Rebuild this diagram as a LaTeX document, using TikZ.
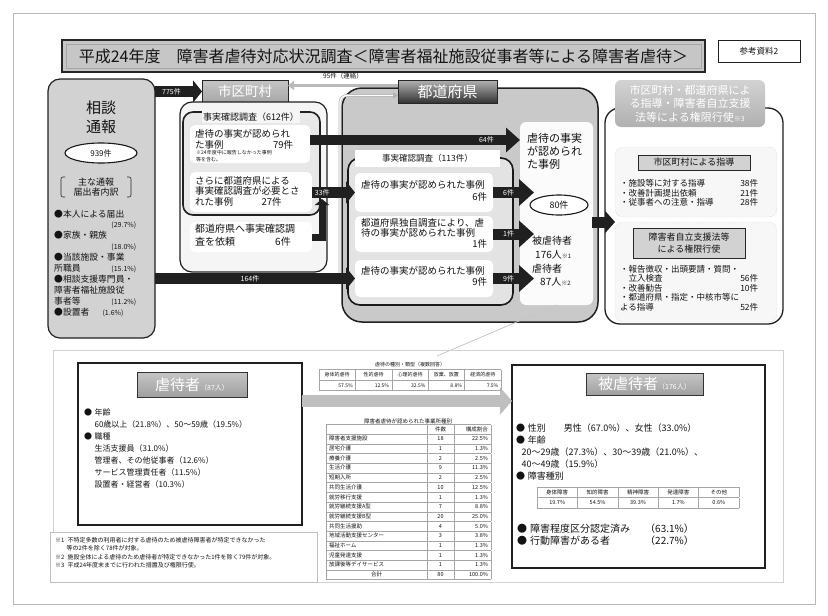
\documentclass[tikz,border=0pt]{standalone}
\usepackage{fontspec}
\setmainfont{Noto Sans CJK JP}
\usepackage{array}
\usepackage{colortbl}
\usetikzlibrary{arrows.meta,shapes.geometric,calc}
\newcommand{\fsz}[2]{\fontsize{#1}{#2}\selectfont}
\begin{document}
\begin{tikzpicture}[x=1pt,y=-1pt]
\tikzset{
  every node/.append style={text=gray!15!black},
  box/.style={rectangle, inner sep=0pt, outer sep=0pt},
  wbox/.style={box, fill=white, rounded corners=5pt},
  dhdr/.style={box, draw=gray!30!black, line width=0.8pt, top color=gray!50, bottom color=gray!75!black, text=white},
  lhdr/.style={box, draw=gray!30!black, line width=0.7pt, fill=gray!35},
  txt/.style={inner sep=0pt, anchor=north west, align=left},
  barrow/.style={draw=gray!25!black, line width=11pt, -{Triangle[length=9pt,width=22pt]}},
  sarrow/.style={draw=gray!25!black, line width=11pt, -{Triangle[length=15pt,width=26pt]}},
  lbl/.style={text=white, font=\fsz{7}{8}, inner sep=1pt},
  tblfont/.style={inner sep=0pt}
}
\useasboundingbox (0,0) rectangle (828,616);
\node[box, draw=gray!55, line width=0.8pt, minimum width=802pt, minimum height=591pt] (frame) at (414,308.5) {};

% title
\node[box, draw=gray!30!black, line width=1.4pt, fill=gray!45, minimum width=643pt, minimum height=32pt] (TB) at (383.5,56) {};
\node[box, draw=gray!70, line width=0.6pt, minimum width=635pt, minimum height=24pt] (TBi) at (TB) {};
\node[font=\fsz{16}{18}] (TBt) at (TB) {平成24年度　障害者虐待対応状況調査＜障害者福祉施設従事者等による障害者虐待＞};
\node[box, draw=gray!25!black, line width=0.9pt, fill=white, minimum width=82pt, minimum height=22pt, font=\fsz{8.5}{10}] (REF) at (759,51) {参考資料2};

% left box
\node[box, draw=gray!25!black, line width=1.2pt, fill=gray!35, rounded corners=12pt, minimum width=107pt, minimum height=259pt] (L) at (101.5,208.5) {};
\node[font=\fsz{15}{19}, align=center, inner sep=0pt] (Lt) at (101,117.5) {相談\\通報};
\node[ellipse, draw=gray!20!black, line width=1.1pt, fill=white, minimum width=72pt, minimum height=20pt, inner sep=0pt, font=\fsz{8}{9}] (E939) at (101,153) {939件};
\node[font=\fsz{9}{10.5}, align=center, inner sep=0pt] (Lsub) at (96,187) {主な通報\\届出者内訳};
\draw[gray!30!black, line width=0.6pt, rounded corners=2pt] (65,177) -- (61,177) -- (61,197) -- (65,197);
\draw[gray!30!black, line width=0.6pt, rounded corners=2pt] (127,177) -- (131,177) -- (131,197) -- (127,197);
\node[txt, text width=82pt, font=\fsz{8.8}{10.9}] (Lb) at (54,209.5) {●本人による届出\\\mbox{}\hfill{\fsz{7}{10.9}(29.7\%)}\\●家族・親族\\\mbox{}\hfill{\fsz{7}{10.9}(18.0\%)}\\●当該施設・事業\\所職員\hfill{\fsz{7}{10.9}(15.1\%)}\\●相談支援専門員・\\障害者福祉施設従\\事者等\hfill{\fsz{7}{10.9}(11.2\%)}\\●設置者\hspace{1.5em}{\fsz{7}{10.9}(1.6\%)}};

% shikuchoson
\node[dhdr, top color=gray!45, bottom color=gray!70, minimum width=86pt, minimum height=23pt, font=\fsz{13.5}{15}] (SKH) at (245,91.5) {市区町村};
\node[box, draw=gray!25!black, line width=1.2pt, fill=gray!8, rounded corners=12pt, minimum width=147pt, minimum height=170pt] (SKO) at (253.5,187) {};
\node[box, draw=gray!25!black, line width=1.6pt, fill=gray!18, rounded corners=10pt, minimum width=137pt, minimum height=103pt] (SKI) at (251.5,163.5) {};
\node[box, fill=gray!8, inner sep=1.5pt, font=\fsz{9}{10}] (SKL) at (251,117) {事実確認調査（612件）};
\node[wbox, minimum width=120pt, minimum height=38pt] (S1) at (250,144) {};
\node[wbox, minimum width=122pt, minimum height=40pt] (S2) at (251,192) {};
\node[wbox, minimum width=122pt, minimum height=30pt] (S3) at (251,237) {};
\node[txt, text width=98pt, font=\fsz{9.5}{10.5}] (S1t) at (195,129.5) {虐待の事実が認められ\\た事例\hfill79件};
\node[txt, font=\fsz{5}{6.2}] (S1n) at (196,150.5) {※24年度中に報告しなかった事例\\等を含む。};
\node[txt, font=\fsz{9.5}{10.3}] (S2t) at (195,176.5) {さらに都道府県による\\事実確認調査が必要とさ\\れた事例\hspace{3em}27件};
\node[txt, font=\fsz{10}{12.5}] (S3t) at (195,224) {都道府県へ事実確認調\\査を依頼\hspace{4em}6件};

% todofuken
\node[box, draw=gray!25!black, line width=1.5pt, fill=gray!42, rounded corners=20pt, minimum width=256pt, minimum height=234pt] (TDB) at (470,205) {};
\node[dhdr, top color=gray!60, bottom color=gray!40!black, minimum width=99pt, minimum height=23pt, font=\fsz{15}{17}] (TDH) at (447.5,91.5) {都道府県};
\node[box, draw=gray!20!black, line width=1.6pt, fill=gray!22, rounded corners=12pt, minimum width=165pt, minimum height=147pt] (TDI) at (430.5,231.5) {};
\node[box, fill=white, minimum width=145pt, minimum height=17pt, font=\fsz{8.5}{10}] (TDL) at (427.5,158.5) {事実確認調査（113件）};
\node[wbox, minimum width=138pt, minimum height=39pt] (TA) at (424,192.5) {};
\node[wbox, minimum width=138pt, minimum height=36pt] (TBB) at (424,234) {};
\node[wbox, minimum width=138pt, minimum height=37pt] (TC) at (424,278.5) {};
\node[txt, text width=126pt, font=\fsz{9.5}{12}] (TAt) at (361,180) {虐待の事実が認められた事例\\\mbox{}\hfill 6件};
\node[txt, text width=126pt, font=\fsz{9.5}{10.5}] (TBt2) at (361,218) {都道府県独自調査により、虐\\待の事実が認められた事例\\\mbox{}\hfill 1件};
\node[txt, text width=126pt, font=\fsz{9.5}{11}] (TCt) at (361,266) {虐待の事実が認められた事例\\\mbox{}\hfill 9件};
\node[wbox, fill=gray!3, rounded corners=6pt, minimum width=73pt, minimum height=183pt] (TR) at (556.5,213.5) {};
\node[txt, font=\fsz{11}{13}] (TRt) at (527,133) {虐待の事実\\が認められ\\た事例};
\node[ellipse, draw=gray!20!black, line width=1.1pt, fill=white, minimum width=58pt, minimum height=20pt, inner sep=0pt, font=\fsz{9}{10}] (E80) at (559,205) {80件};
\node[txt, font=\fsz{10}{13.7}] (TRv) at (532,236) {被虐待者\\\hspace*{0.3em}176人{\fsz{6}{13.7}※1}\\虐待者\\\hspace*{0.8em}87人{\fsz{6}{13.7}※2}};

% right column
\node[box, draw=gray!25!black, line width=1.3pt, fill=white, rounded corners=15pt, minimum width=178pt, minimum height=216pt] (RO) at (694,216) {};
\node[box, rounded corners=6pt, top color=gray!35, bottom color=gray!62, text=white, minimum width=150pt, minimum height=47pt, align=center, font=\fsz{11}{13.5}] (RH) at (690,103.5) {市区町村・都道府県によ\\る指導・障害者自立支援\\法等による権限行使{\fsz{7}{13.5}※3}};
\node[box, draw=gray!45, densely dotted, fill=gray!6, rounded corners=8pt, minimum width=162pt, minimum height=70pt] (RS1) at (696,182) {};
\node[lhdr, minimum width=112pt, minimum height=15pt, font=\fsz{9}{10}] (RL1) at (694,162.5) {市区町村による指導};
\node[txt, text width=138pt, font=\fsz{8.5}{9.3}] (RI1) at (620,179.5) {・施設等に対する指導\hfill 38件\\・改善計画提出依頼\hfill 21件\\・従事者への注意・指導\hfill 28件};
\node[box, draw=gray!45, densely dotted, fill=gray!6, rounded corners=8pt, minimum width=162pt, minimum height=100pt] (RS2) at (696,272) {};
\node[lhdr, minimum width=112pt, minimum height=30pt, align=center, font=\fsz{9}{12}] (RL2) at (689,243) {障害者自立支援法等\\による権限行使};
\node[txt, text width=138pt, font=\fsz{8.5}{9.5}] (RI2) at (620,265) {・報告徴収・出頭要請・質問・\\\hspace*{1em}立入検査\hfill 56件\\・改善勧告\hfill 10件\\・都道府県・指定・中核市等に\\よる指導\hfill 52件};

% connectors upper
\coordinate (c95) at ([yshift=6pt]TDH.west);
\draw[gray!55, line width=2.5pt, -{Triangle[length=6pt,width=9pt]}] (c95) -- (c95 -| SKH.east) node[midway, above=1.5pt, font=\fsz{6.5}{7}] {95件（連絡）};
\coordinate (tl0) at (340,279);
\coordinate (tl1) at ([yshift=-4pt]TDH.west);
\draw[gray!60, line width=0.7pt, double=white, double distance=1.3pt, rounded corners=7pt, -{Triangle[length=5pt,width=6pt]}] (tl0) |- (tl1);
\draw[barrow] (L.east |- SKH.west) -- (SKH.west) node[pos=0.35, lbl] {775件};
\coordinate (c64) at ([yshift=4pt]S1.east);
\draw[barrow, line width=10pt, -{Triangle[length=14pt,width=24pt]}] (c64) -- (c64 -| TR.west) node[pos=0.84, lbl] {64件};
\coordinate (v1) at ([xshift=10pt]S3.east);
\coordinate (c33) at (S2.east |- TA.west);
\path (v1 |- c33) coordinate (v2a);
\coordinate (v2) at ([yshift=-6.5pt]v2a);
\draw[draw=gray!25!black, line width=7pt, line join=miter, -{Triangle[length=6pt,width=14pt]}] (S3.east) -- (v1) -- (v2);
\draw[barrow] (c33) -- (TA.west) node[pos=0.24, lbl, fill=gray!25!black] {33件};
\draw[barrow] (L.east |- TC.west) -- (TC.west) node[pos=0.475, lbl] {164件};
\draw[sarrow] (TA.east) -- ([xshift=41pt]TA.east) node[pos=0.38, lbl] {6件};
\draw[sarrow] (TBB.east) -- ([xshift=41pt]TBB.east) node[pos=0.38, lbl] {1件};
\draw[sarrow] (TC.east) -- ([xshift=41pt]TC.east) node[pos=0.38, lbl] {9件};
\coordinate (cR) at ([yshift=-17pt, xshift=-6pt]TDB.east);
\path (cR -| RO.west) coordinate (cR2);
\coordinate (cR3) at ([xshift=10pt]cR2);
\draw[barrow, line width=11pt, -{Triangle[length=10pt,width=22pt]}] (cR) -- (cR3);
\coordinate (clE) at (437,356);
\draw[gray!45, line width=0.8pt] (TR.south) -- (clE);

% bottom
\node[box, draw=gray!35, line width=0.8pt, minimum width=730pt, minimum height=232pt] (BO) at (418,466) {};
\node[box, draw=gray!25!black, line width=1.5pt, fill=white, minimum width=224pt, minimum height=162pt] (BL) at (190,444) {};
\node[box, draw=gray!40!black, line width=0.6pt, top color=gray!45, bottom color=gray!75, text=white, minimum width=110pt, minimum height=25pt, font=\fsz{15}{17}] (BLL) at (192,384.5) {虐待者{\fsz{7}{8}（87人）}};
\node[txt, font=\fsz{8}{12}] (BLt) at (84,409) {●\hspace{0.3em}年齢\\\hspace*{1.3em}60歳以上（21.8\%）、50～59歳（19.5\%）\\●\hspace{0.3em}職種\\\hspace*{1.3em}生活支援員（31.0\%）\\\hspace*{1.3em}管理者、その他従事者（12.6\%）\\\hspace*{1.3em}サービス管理責任者（11.5\%）\\\hspace*{1.3em}設置者・経営者（10.3\%）};
\node[box, draw=gray!25!black, line width=1.5pt, fill=white, minimum width=253pt, minimum height=203pt] (BR) at (638.5,466.5) {};
\node[box, draw=gray!40!black, line width=0.6pt, top color=gray!45, bottom color=gray!75, text=white, minimum width=117pt, minimum height=22pt, font=\fsz{15}{17}] (BRL) at (644.5,384) {被虐待者{\fsz{7}{8}（176人）}};
\coordinate (ba1) at ([yshift=43pt]BL.east);
\draw[gray!50, line width=12pt, -{Triangle[length=12pt,width=27pt]}] (ba1) -- (ba1 -| BR.west);
\node[font=\fsz{5}{6}] (TTt) at (410,365) {虐待の種別・類型（複数回答）};
\node[tblfont, font=\fsz{5}{10}] (TT) at (410,380) {\arrayrulecolor{gray!70}\setlength{\tabcolsep}{2.5pt}\begin{tabular}{|*{5}{p{31pt}|}}\hline
\hfil 身体的虐待\hfil & \hfil 性的虐待\hfil & \hfil 心理的虐待\hfil & \hfil 放棄、放置\hfil & \hfil 経済的虐待\hfil\\\hline
\hfill 57.5\% & \hfill 12.5\% & \hfill 32.5\% & \hfill 8.8\% & \hfill 7.5\%\\\hline\end{tabular}};
\node[font=\fsz{5.5}{6.5}] (CTt) at (408,421) {障害者虐待が認められた事業所種別};
\node[tblfont, font=\fsz{5.5}{9.3}] (CT) at (408.5,502) {\arrayrulecolor{gray!70}\setlength{\tabcolsep}{3pt}\begin{tabular}{|p{95pt}|>{\centering\arraybackslash}p{20pt}|>{\raggedleft\arraybackslash}p{31pt}|}\hline
 & 件数 & 構成割合\\\hline
障害者支援施設 & 18 & 22.5\%\\\hline
居宅介護 & 1 & 1.3\%\\\hline
療養介護 & 2 & 2.5\%\\\hline
生活介護 & 9 & 11.3\%\\\hline
短期入所 & 2 & 2.5\%\\\hline
共同生活介護 & 10 & 12.5\%\\\hline
就労移行支援 & 1 & 1.3\%\\\hline
就労継続支援A型 & 7 & 8.8\%\\\hline
就労継続支援B型 & 20 & 25.0\%\\\hline
共同生活援助 & 4 & 5.0\%\\\hline
地域活動支援センター & 3 & 3.8\%\\\hline
福祉ホーム & 1 & 1.3\%\\\hline
児童発達支援 & 1 & 1.3\%\\\hline
放課後等デイサービス & 1 & 1.3\%\\\hline
\hfil 合計\hfil & 80 & 100.0\%\\\hline\end{tabular}};
\node[txt, font=\fsz{9}{11.8}] (BRt) at (516,424) {●\hspace{0.3em}性別\hspace{2em}男性（67.0\%）、女性（33.0\%）\\●\hspace{0.3em}年齢\\\hspace*{0.6em}20～29歳（27.3\%）、30～39歳（21.0\%）、\\\hspace*{0.6em}40～49歳（15.9\%）\\●\hspace{0.3em}障害種別};
\node[tblfont, font=\fsz{5.5}{10}] (RT) at (638,497.5) {\arrayrulecolor{gray!70}\setlength{\tabcolsep}{3pt}\begin{tabular}{|*{5}{>{\centering\arraybackslash}p{34pt}|}}\hline
身体障害 & 知的障害 & 精神障害 & 発達障害 & その他\\\hline
19.7\% & 54.5\% & 39.3\% & 1.7\% & 0.6\%\\\hline\end{tabular}};
\node[txt, font=\fsz{10}{12}] (BRb) at (517,524) {●\hspace{0.3em}障害程度区分認定済み\\●\hspace{0.3em}行動障害がある者};
\node[txt, font=\fsz{10}{12}] (BRp) at (645,524) {（63.1\%）\\（22.7\%）};
\node[box, draw=gray!50, line width=0.6pt, fill=white, minimum width=267pt, minimum height=50pt] (FN) at (183.5,557) {};
\node[txt, font=\fsz{6}{8.5}] (FNt) at (55,537) {※1\hspace{0.5em}不特定多数の利用者に対する虐待のため被虐待障害者が特定できなかった\\\hspace*{1.9em}等の2件を除く78件が対象。\\※2\hspace{0.5em}施設全体による虐待のため虐待者が特定できなかった1件を除く79件が対象。\\※3\hspace{0.5em}平成24年度末までに行われた措置及び権限行使。};
\end{tikzpicture}
\end{document}
